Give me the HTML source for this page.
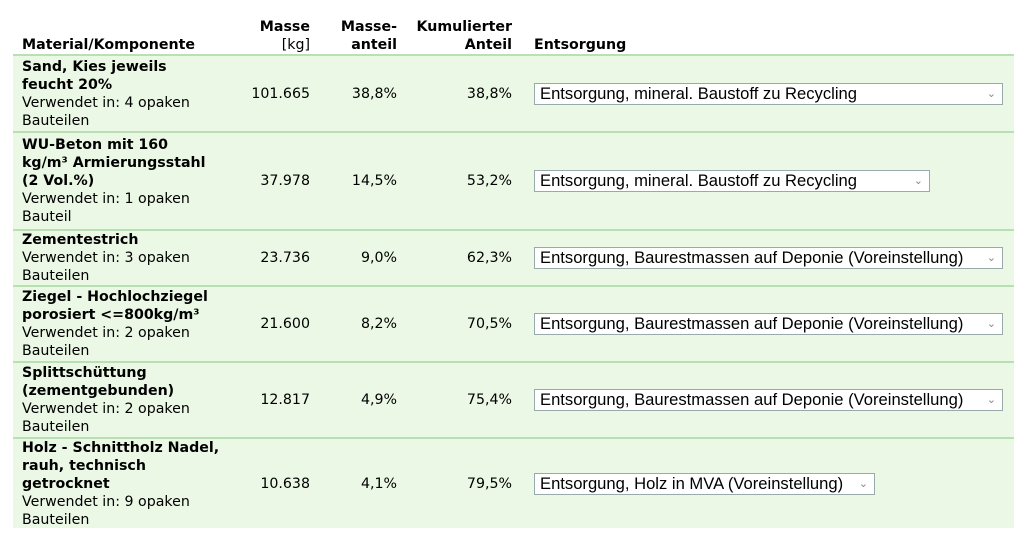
<!DOCTYPE html>
<html><head><meta charset="utf-8"><style>
body{margin:0;width:1024px;height:537px;background:#fff;font-family:"DejaVu Sans","Liberation Sans",sans-serif;font-size:14.2px;color:#000;position:relative;overflow:hidden}
.h{position:absolute;font-weight:bold;line-height:18px}
.r{position:absolute;left:13px;width:1001px;background:#ebf8e6;border-top:2px solid #b8e0b2;box-sizing:border-box}
.m{position:absolute;left:9px;top:50%;transform:translateY(-50%);line-height:18px;width:240px;white-space:nowrap}
.m b{font-weight:bold}
.n{position:absolute;top:50%;transform:translateY(-50%);text-align:right;line-height:18px}
.s{position:absolute;left:521px;top:50%;transform:translateY(-50%);height:22px;background:#fff;border:1px solid #9aa;box-sizing:border-box;font-family:"Liberation Sans",sans-serif;font-size:16.6px;line-height:20px;padding-left:5px;white-space:nowrap}
.s i{position:absolute;right:6px;top:0;font-style:normal;color:#888;font-size:11px}
</style></head><body>
<div class="h" style="left:22px;top:36px">Material/Komponente</div>
<div class="h" style="left:230px;width:80px;text-align:right;top:18px">Masse<br><span style="font-weight:normal">[kg]</span></div>
<div class="h" style="left:317px;width:80px;text-align:right;top:18px">Masse-<br>anteil</div>
<div class="h" style="left:392px;width:120px;text-align:right;top:18px">Kumulierter<br>Anteil</div>
<div class="h" style="left:534px;top:36px">Entsorgung</div>

<div class="r" style="top:54px;height:77px"><div class="m"><b>Sand, Kies jeweils<br>feucht 20%</b><br>Verwendet in: 4 opaken<br>Bauteilen</div>
<div class="n" style="right:704px">101.665</div><div class="n" style="right:617px">38,8%</div><div class="n" style="right:502px">38,8%</div>
<div class="s" style="width:469px">Entsorgung, mineral. Baustoff zu Recycling<i>&#8964;</i></div></div>

<div class="r" style="top:131px;height:98px"><div class="m"><b>WU-Beton mit 160<br>kg/m³ Armierungsstahl<br>(2 Vol.%)</b><br>Verwendet in: 1 opaken<br>Bauteil</div>
<div class="n" style="right:704px">37.978</div><div class="n" style="right:617px">14,5%</div><div class="n" style="right:502px">53,2%</div>
<div class="s" style="width:396px">Entsorgung, mineral. Baustoff zu Recycling<i>&#8964;</i></div></div>

<div class="r" style="top:229px;height:56px"><div class="m"><b>Zementestrich</b><br>Verwendet in: 3 opaken<br>Bauteilen</div>
<div class="n" style="right:704px">23.736</div><div class="n" style="right:617px">9,0%</div><div class="n" style="right:502px">62,3%</div>
<div class="s" style="width:469px">Entsorgung, Baurestmassen auf Deponie (Voreinstellung)<i>&#8964;</i></div></div>

<div class="r" style="top:285px;height:76px"><div class="m"><b>Ziegel - Hochlochziegel<br>porosiert &lt;=800kg/m³</b><br>Verwendet in: 2 opaken<br>Bauteilen</div>
<div class="n" style="right:704px">21.600</div><div class="n" style="right:617px">8,2%</div><div class="n" style="right:502px">70,5%</div>
<div class="s" style="width:469px">Entsorgung, Baurestmassen auf Deponie (Voreinstellung)<i>&#8964;</i></div></div>

<div class="r" style="top:361px;height:76px"><div class="m"><b>Splittschüttung<br>(zementgebunden)</b><br>Verwendet in: 2 opaken<br>Bauteilen</div>
<div class="n" style="right:704px">12.817</div><div class="n" style="right:617px">4,9%</div><div class="n" style="right:502px">75,4%</div>
<div class="s" style="width:469px">Entsorgung, Baurestmassen auf Deponie (Voreinstellung)<i>&#8964;</i></div></div>

<div class="r" style="top:437px;height:91px"><div class="m"><b>Holz - Schnittholz Nadel,<br>rauh, technisch<br>getrocknet</b><br>Verwendet in: 9 opaken<br>Bauteilen</div>
<div class="n" style="right:704px">10.638</div><div class="n" style="right:617px">4,1%</div><div class="n" style="right:502px">79,5%</div>
<div class="s" style="width:341px">Entsorgung, Holz in MVA (Voreinstellung)<i>&#8964;</i></div></div>
</body></html>
